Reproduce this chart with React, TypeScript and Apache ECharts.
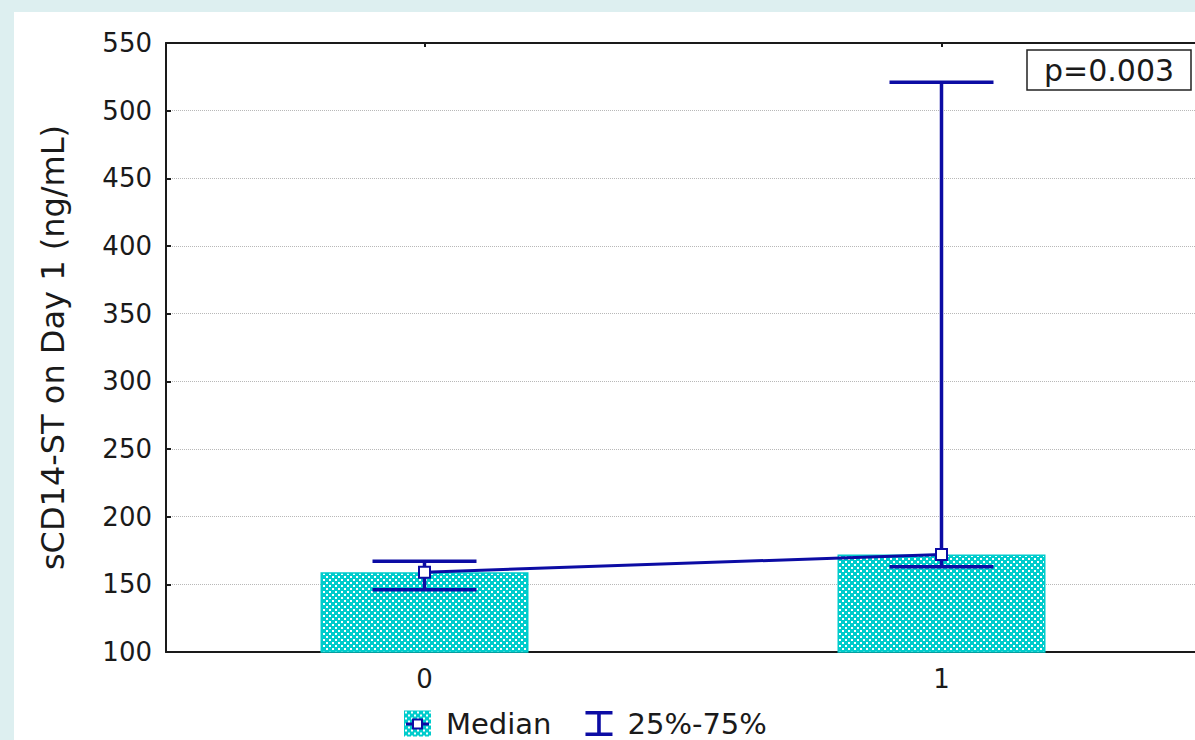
import React, { useEffect, useRef } from "react";
import * as echarts from "echarts";

const categories = ["0", "1"];
const medianValues = [159, 172];
const q25Values = [146, 163];
const q75Values = [167, 521];
const yTicks = { min: 100, max: 550, interval: 50 };
const pValueText = "p=0.003";
const yAxisTitle = "sCD14-ST on Day 1 (ng/mL)";
const legendNames = ["Median", "25%-75%"];

const BLUE = "#0c0ca4";
const CYAN = "#00cccc";
const FONT = "DejaVu Sans";

function makeChecker(): string {
  const c = document.createElement("canvas");
  c.width = 6;
  c.height = 6;
  const ctx = c.getContext("2d")!;
  ctx.fillStyle = CYAN;
  ctx.fillRect(0, 0, 6, 6);
  ctx.fillStyle = "#ffffff";
  ctx.fillRect(0, 0, 2, 2);
  ctx.fillRect(3, 3, 2, 2);
  return c.toDataURL();
}

function makeMedianIcon(): string {
  const w = 27, h = 26;
  const c = document.createElement("canvas");
  c.width = w;
  c.height = h;
  const ctx = c.getContext("2d")!;
  ctx.fillStyle = CYAN;
  ctx.fillRect(0, 0, w, h);
  ctx.fillStyle = "#ffffff";
  for (let y = 0; y < h; y += 3) {
    for (let x = 0; x < w; x += 3) {
      if ((x / 3 + y / 3) % 2 === 0) ctx.fillRect(x + 1, y + 1, 2, 2);
    }
  }
  ctx.fillStyle = BLUE;
  ctx.fillRect(2, 12, w - 4, 3);
  ctx.fillRect(8, 8, 11, 11);
  ctx.fillStyle = "#ffffff";
  ctx.fillRect(10, 10, 7, 7);
  return c.toDataURL();
}

export default function App() {
  const ref = useRef<HTMLDivElement>(null);

  useEffect(() => {
    if (!ref.current) return;
    const chart = echarts.init(ref.current, undefined, { renderer: "svg" });
    const checker = makeChecker();
    const medianIcon = makeMedianIcon();

    const errData = categories.map((_, i) => [i, q25Values[i], q75Values[i]]);

    chart.setOption({
      animation: false,
      backgroundColor: "#ffffff",
      title: {
        text: pValueText,
        left: 1013,
        top: 38,
        borderColor: "#222",
        borderWidth: 1.5,
        padding: [5, 17, 5, 17],
        textStyle: { fontFamily: FONT, fontSize: 30, fontWeight: "normal", color: "#1a1a1a" },
      },
      legend: {
        left: 390,
        top: 697,
        padding: 0,
        itemWidth: 27,
        itemHeight: 26,
        itemGap: 34,
        selectedMode: false,
        textStyle: { fontFamily: FONT, fontSize: 29, color: "#1a1a1a", padding: [0, 0, 0, 10] },
        data: [
          { name: legendNames[0], icon: "image://" + medianIcon },
          {
            name: legendNames[1],
            icon: "path://M0,0H30V4H17V24H30V28H0V24H13V4H0Z",
            itemStyle: { color: BLUE },
          },
        ],
      },
      grid: { left: 152, right: 4, top: 31, bottom: 88, containLabel: false },
      xAxis: [
        {
          type: "category",
          data: categories,
          position: "bottom",
          axisLine: { show: true, lineStyle: { color: "#1a1a1a", width: 2 } },
          axisTick: { show: true, inside: true, alignWithLabel: true, length: 5, lineStyle: { color: "#1a1a1a", width: 2 } },
          axisLabel: { fontFamily: FONT, fontSize: 26, color: "#1a1a1a", margin: 14 },
          splitLine: { show: false },
        },
        {
          type: "category",
          data: categories,
          position: "top",
          axisLine: { show: true, lineStyle: { color: "#1a1a1a", width: 2 } },
          axisTick: { show: true, inside: true, alignWithLabel: true, length: 4, lineStyle: { color: "#1a1a1a", width: 2 } },
          axisLabel: { show: false },
          splitLine: { show: false },
        },
      ],
      yAxis: {
        type: "value",
        min: yTicks.min,
        max: yTicks.max,
        interval: yTicks.interval,
        name: yAxisTitle,
        nameLocation: "middle",
        nameGap: 97,
        nameTextStyle: { fontFamily: FONT, fontSize: 32, color: "#1a1a1a" },
        axisLine: { show: true, lineStyle: { color: "#1a1a1a", width: 2 } },
        axisTick: { show: true, inside: true, length: 5, lineStyle: { color: "#1a1a1a", width: 2 } },
        axisLabel: { fontFamily: FONT, fontSize: 26, color: "#1a1a1a", margin: 14 },
        splitLine: { show: true, lineStyle: { color: "#b8b8b8", width: 1, type: "dotted" } },
      },
      series: [
        {
          name: legendNames[0],
          type: "bar",
          data: medianValues,
          barWidth: 208,
          clip: true,
          z: 2,
          itemStyle: {
            color: { image: checker, repeat: "repeat", imageWidth: 6, imageHeight: 6 },
            borderColor: CYAN,
            borderWidth: 1.5,
          },
        },
        {
          name: legendNames[1],
          type: "custom",
          data: errData,
          encode: { x: 0, y: [1, 2] },
          z: 3,
          renderItem: (params: any, api: any) => {
            const xi = api.value(0);
            const lo = api.coord([xi, api.value(1)]);
            const hi = api.coord([xi, api.value(2)]);
            const half = 52;
            const style = { stroke: BLUE, lineWidth: 3.5 };
            return {
              type: "group",
              children: [
                { type: "line", shape: { x1: lo[0], y1: lo[1], x2: hi[0], y2: hi[1] }, style },
                { type: "line", shape: { x1: lo[0] - half, y1: lo[1], x2: lo[0] + half, y2: lo[1] }, style },
                { type: "line", shape: { x1: hi[0] - half, y1: hi[1], x2: hi[0] + half, y2: hi[1] }, style },
              ],
            };
          },
        },
        {
          name: legendNames[0],
          type: "line",
          data: medianValues,
          z: 4,
          symbol: "rect",
          symbolSize: 11,
          lineStyle: { color: BLUE, width: 3 },
          itemStyle: { color: "#ffffff", borderColor: BLUE, borderWidth: 2 },
        },
      ],
    });
    return () => chart.dispose();
  }, []);

  return (
    <div
      style={{
        position: "fixed",
        left: 0,
        top: 0,
        width: 1195,
        height: 740,
        background: "#ddeff0",
        overflow: "hidden",
      }}
    >
      <div
        ref={ref}
        style={{ position: "absolute", left: 14, top: 12, width: 1190, height: 728, background: "#ffffff" }}
      />
    </div>
  );
}
